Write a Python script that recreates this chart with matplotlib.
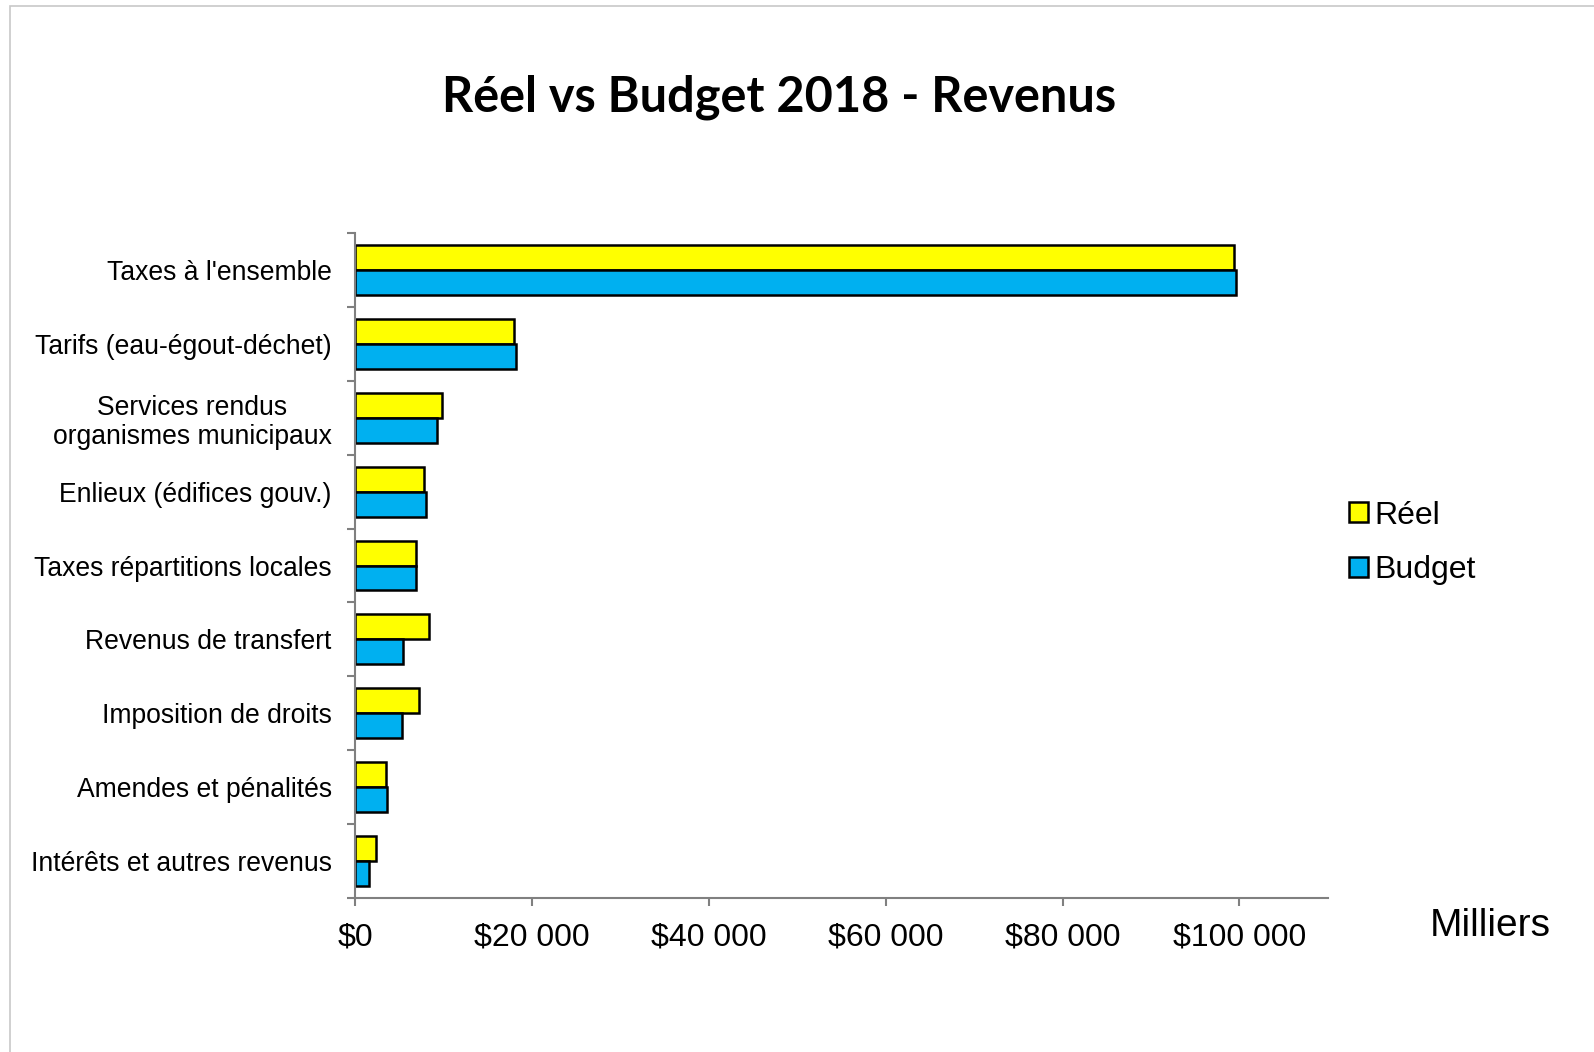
import matplotlib
matplotlib.use("Agg")
import matplotlib.pyplot as plt
import numpy as np
from matplotlib.patches import Rectangle, Patch
from matplotlib.ticker import FuncFormatter

categories = ["Taxes à l'ensemble", "Tarifs (eau-égout-déchet)",
              "Services rendus\norganismes municipaux", "Enlieux (édifices gouv.)",
              "Taxes répartitions locales", "Revenus de transfert",
              "Imposition de droits", "Amendes et pénalités",
              "Intérêts et autres revenus"]
reel = [99400, 17900, 9800, 7800, 6900, 8300, 7200, 3400, 2350]
budget = [99600, 18200, 9200, 8000, 6900, 5400, 5300, 3600, 1500]
xticks = [0, 20000, 40000, 60000, 80000, 100000]

plt.rcParams['font.family'] = ['Liberation Sans', 'DejaVu Sans']

fig = plt.figure(figsize=(15.94, 10.52), dpi=100)
# light outer border
fig.patches.append(Rectangle((10 / 1594, -0.01), 1.1, 1 - 6 / 1052 + 0.01,
                             transform=fig.transFigure, fill=False,
                             edgecolor='#c8c8c8', linewidth=1.2))

ax = fig.add_axes([0.223, 0.1464, 0.610, 0.6321])
y = np.arange(len(categories))
h = 0.338
ax.barh(y - h / 2, reel, height=h, color='#FFFF00', edgecolor='black', linewidth=1.8, label='Réel')
ax.barh(y + h / 2, budget, height=h, color='#00B0F0', edgecolor='black', linewidth=1.8, label='Budget')

ax.set_ylim(len(categories) - 0.5, -0.5)
ax.set_xlim(0, 110000)
ax.set_yticks(y)
ax.set_yticklabels(categories, fontsize=19.1, multialignment='center', linespacing=1.15)
ax.set_yticks(np.arange(len(categories) + 1) - 0.5, minor=True)
ax.tick_params(axis='y', which='major', length=0, pad=17)
ax.tick_params(axis='y', which='minor', length=6, width=1.5, color='#808080')
ax.set_xticks(xticks)
ax.xaxis.set_major_formatter(FuncFormatter(lambda v, p: '$' + format(int(v), ',').replace(',', ' ')))
ax.tick_params(axis='x', length=6, width=1.5, color='#808080', labelsize=23, pad=12)

for s in ['top', 'right']:
    ax.spines[s].set_visible(False)
for s in ['left', 'bottom']:
    ax.spines[s].set_color('#808080')
    ax.spines[s].set_linewidth(1.5)

fig.text(0.489, 0.908, "Réel vs Budget 2018 - Revenus", ha='center', va='center',
         fontsize=35, fontweight='bold', family=['Lato', 'DejaVu Sans'])
fig.text(0.935, 0.120, "Milliers", ha='center', va='center', fontsize=28)

handles = [Patch(facecolor='#FFFF00', edgecolor='black', linewidth=1.8),
           Patch(facecolor='#00B0F0', edgecolor='black', linewidth=1.8)]
fig.legend(handles, ['Réel', 'Budget'], loc='center left',
           bbox_to_anchor=(1349 / 1594, 1 - 543 / 1052), frameon=False,
           fontsize=23, handlelength=0.6, handleheight=0.6, handletextpad=0.2,
           labelspacing=0.78, borderpad=0, borderaxespad=0)

fig.savefig('out.png', dpi=100)
